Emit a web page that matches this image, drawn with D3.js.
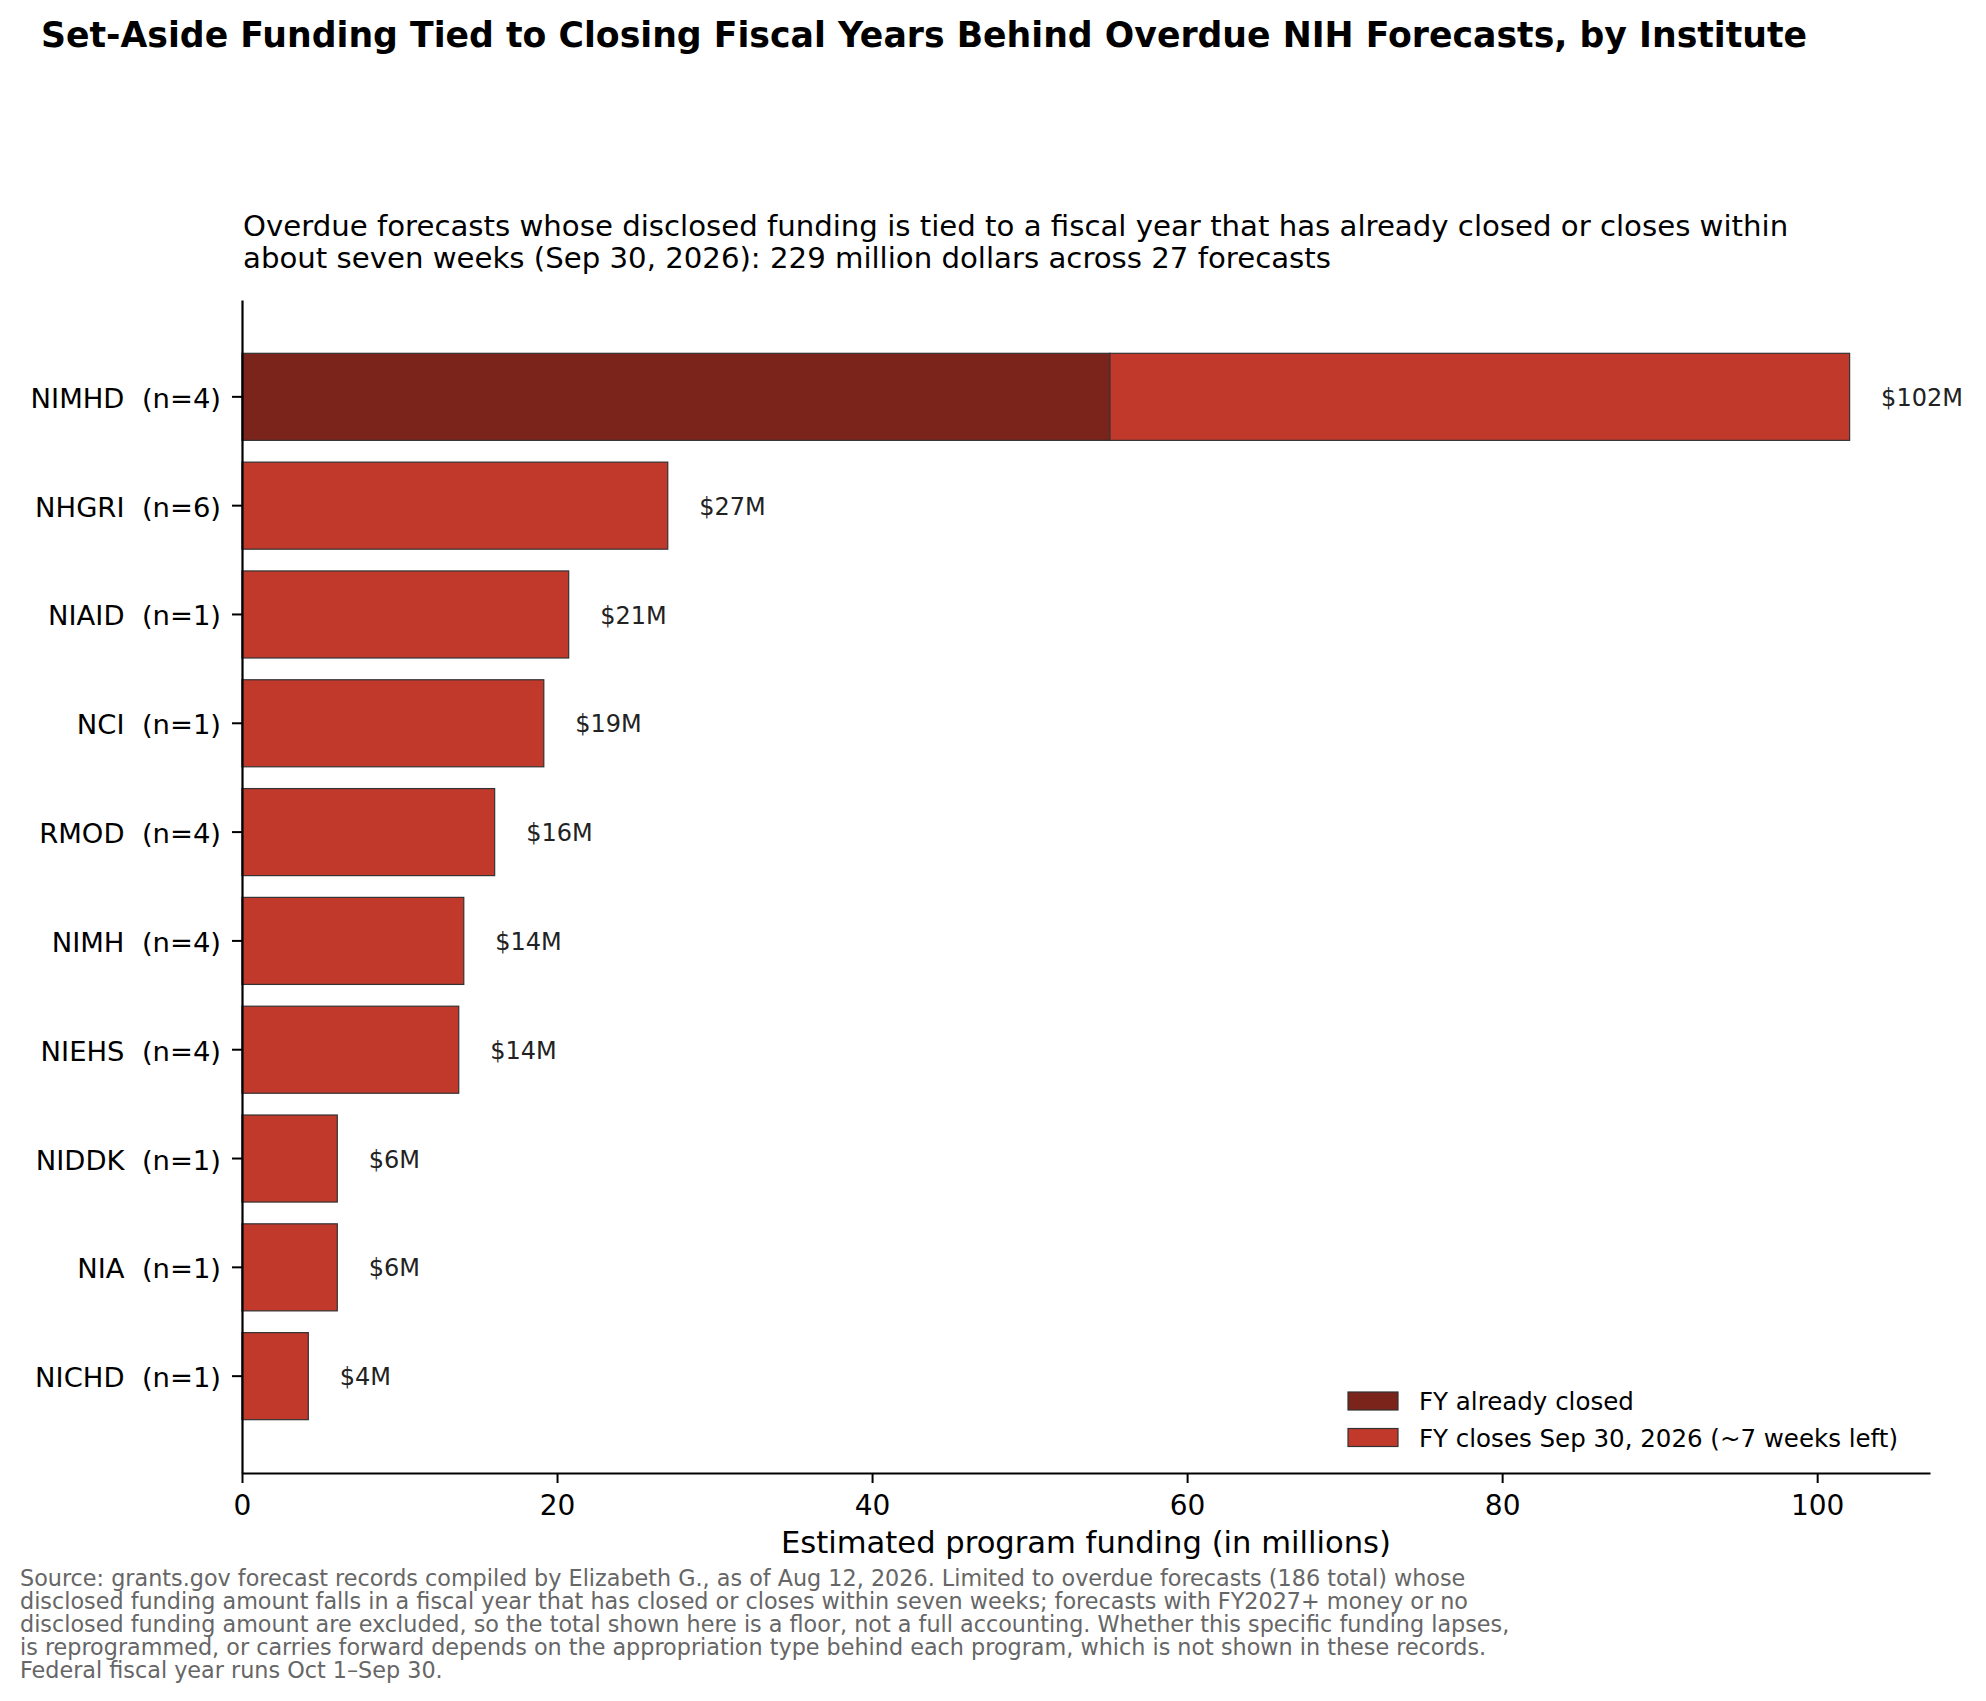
<!DOCTYPE html>
<html>
<head>
<meta charset="utf-8">
<script src="https://cdn.jsdelivr.net/npm/d3@7"></script>
<style>
  body { margin: 0; background: #fff; }
  text { font-family: "DejaVu Sans", sans-serif; white-space: pre; }
</style>
</head>
<body>
<div id="chart"></div>
<script>
// values (millions of dollars)
const institutes = ['NIMHD', 'NHGRI', 'NIAID', 'NCI', 'RMOD', 'NIMH', 'NIEHS', 'NIDDK', 'NIA', 'NICHD']
const forecastCounts = [4, 6, 1, 1, 4, 4, 4, 1, 1, 1]
const fyClosed = [55.1, 0, 0, 0, 0, 0, 0, 0, 0, 0]
const fyClosing = [46.96, 27.03, 20.74, 19.16, 16.04, 14.08, 13.76, 6.05, 6.05, 4.21]
const xTickValues = [0, 20, 40, 60, 80, 100]
const seriesNames = ['FY already closed', 'FY closes Sep 30, 2026 (~7 weeks left)']
const seriesColors = ['#7b241c', '#c0392b']

const titleText = 'Set-Aside Funding Tied to Closing Fiscal Years Behind Overdue NIH Forecasts, by Institute'
const subtitleLines = [
  'Overdue forecasts whose disclosed funding is tied to a fiscal year that has already closed or closes within',
  'about seven weeks (Sep 30, 2026): 229 million dollars across 27 forecasts'
]
const xLabel = 'Estimated program funding (in millions)'
const footLines = [
  'Source: grants.gov forecast records compiled by Elizabeth G., as of Aug 12, 2026. Limited to overdue forecasts (186 total) whose',
  'disclosed funding amount falls in a fiscal year that has closed or closes within seven weeks; forecasts with FY2027+ money or no',
  'disclosed funding amount are excluded, so the total shown here is a floor, not a full accounting. Whether this specific funding lapses,',
  'is reprogrammed, or carries forward depends on the appropriation type behind each program, which is not shown in these records.',
  'Federal fiscal year runs Oct 1\u2013Sep 30.'
]

const W = 1986, H = 1701
const plot = { left: 242, right: 1930, top: 300, bottom: 1473 }

const rows = institutes.map((name, i) => ({
  name,
  label: `${name}  (n=${forecastCounts[i]})`,
  closed: fyClosed[i],
  closing: fyClosing[i],
  total: fyClosed[i] + fyClosing[i]
}))

const svg = d3.select('#chart').append('svg')
  .attr('width', W)
  .attr('height', H)

const x = d3.scaleLinear()
  .domain([0, d3.max(rows, d => d.total) * 1.05])
  .range([plot.left, plot.right])

const y = d3.scaleBand()
  .domain(institutes)
  .range([plot.top, plot.bottom])
  .paddingInner(0.2)
  .paddingOuter(0.49)

// bars: closed part first, then the part closing Sep 30
const barG = svg.append('g')
barG.selectAll('rect.closed')
  .data(rows.filter(d => d.closed > 0))
  .join('rect')
  .attr('class', 'closed')
  .attr('x', x(0))
  .attr('y', d => y(d.name))
  .attr('width', d => x(d.closed) - x(0))
  .attr('height', y.bandwidth())
  .attr('fill', seriesColors[0])
  .attr('stroke', '#333')
  .attr('stroke-width', 1.2)

barG.selectAll('rect.closing')
  .data(rows)
  .join('rect')
  .attr('class', 'closing')
  .attr('x', d => x(d.closed))
  .attr('y', d => y(d.name))
  .attr('width', d => x(d.closed + d.closing) - x(d.closed))
  .attr('height', y.bandwidth())
  .attr('fill', seriesColors[1])
  .attr('stroke', '#333')
  .attr('stroke-width', 1.2)

// value labels
svg.append('g').selectAll('text')
  .data(rows)
  .join('text')
  .attr('x', d => x(d.total + 2))
  .attr('y', d => y(d.name) + y.bandwidth() / 2)
  .attr('dy', '0.38em')
  .attr('font-size', 24)
  .attr('fill', '#222')
  .text(d => `$${Math.round(d.total)}M`)

// axes
const xAxis = svg.append('g')
  .attr('transform', `translate(0,${plot.bottom})`)
  .call(d3.axisBottom(x).tickValues(xTickValues).tickSize(10).tickPadding(12).tickSizeOuter(0))
xAxis.select('.domain').attr('stroke', '#000').attr('stroke-width', 2.2)
xAxis.selectAll('.tick line').attr('stroke', '#000').attr('stroke-width', 2)
xAxis.selectAll('.tick text')
  .attr('font-size', 28)
  .attr('fill', '#000')
  .attr('font-family', '"DejaVu Sans", sans-serif')

const yAxis = svg.append('g')
  .attr('transform', `translate(${plot.left},0)`)
  .call(d3.axisLeft(y).tickSize(10).tickPadding(11).tickSizeOuter(0)
    .tickFormat((d, i) => rows[i].label))
yAxis.select('.domain').attr('stroke', '#000').attr('stroke-width', 2.2)
yAxis.selectAll('.tick line').attr('stroke', '#000').attr('stroke-width', 2)
yAxis.selectAll('.tick text')
  .attr('font-size', 27.4)
  .attr('dy', '0.4em')
  .attr('fill', '#000')
  .attr('font-family', '"DejaVu Sans", sans-serif')

// x label
svg.append('text')
  .attr('x', (plot.left + plot.right) / 2)
  .attr('y', 1553)
  .attr('text-anchor', 'middle')
  .attr('font-size', 30.6)
  .attr('fill', '#000')
  .text(xLabel)

// legend, lower right inside the axes
const legend = svg.append('g')
  .attr('transform', 'translate(1348,1392)')
seriesNames.forEach((name, i) => {
  const g = legend.append('g').attr('transform', `translate(0,${i * 36.5})`)
  g.append('rect')
    .attr('width', 50)
    .attr('height', 18)
    .attr('fill', seriesColors[i])
    .attr('stroke', '#333')
    .attr('stroke-width', 1.2)
  g.append('text')
    .attr('x', 71)
    .attr('y', 18)
    .attr('font-size', 24.5)
    .attr('fill', '#000')
    .text(name)
})

// title and subtitle
svg.append('text')
  .attr('x', 41)
  .attr('y', 47)
  .attr('font-size', 34.7)
  .attr('font-weight', 'bold')
  .attr('fill', '#000')
  .text(titleText)

svg.append('g').selectAll('text')
  .data(subtitleLines)
  .join('text')
  .attr('x', 243)
  .attr('y', (d, i) => 236 + i * 32)
  .attr('font-size', 29.2)
  .attr('fill', '#000')
  .text(d => d)

// footnote
svg.append('g').selectAll('text')
  .data(footLines)
  .join('text')
  .attr('x', 20)
  .attr('y', (d, i) => 1586 + i * 23.1)
  .attr('font-size', 22.3)
  .attr('fill', '#666')
  .text(d => d)
</script>
</body>
</html>
